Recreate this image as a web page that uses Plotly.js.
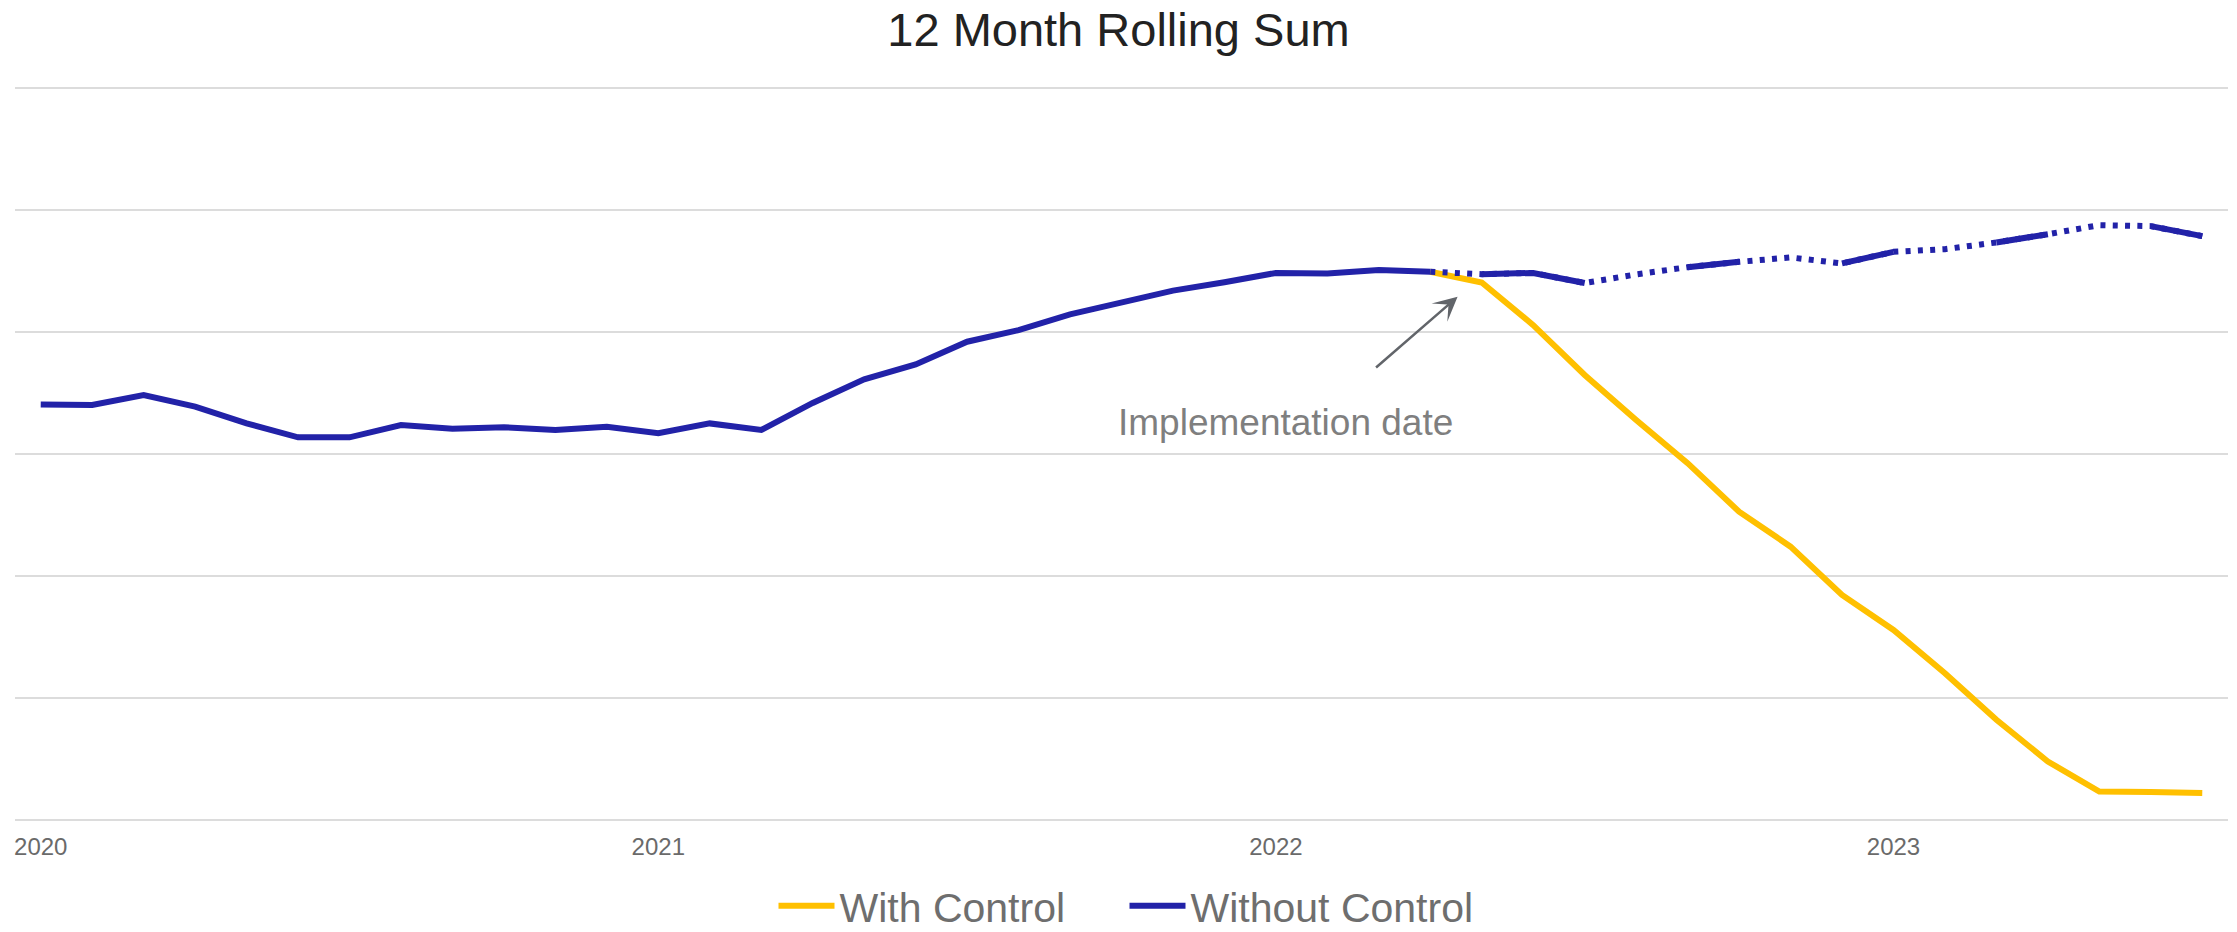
<!DOCTYPE html>
<html>
<head>
<meta charset="utf-8">
<script src="https://cdn.plot.ly/plotly-3.0.1.min.js"></script>
<style>
  html, body { margin: 0; padding: 0; background: #ffffff; }
  #chart { width: 2237px; height: 932px; }
</style>
</head>
<body>
<div id="chart"></div>
<script>
// ---- Data ----
const months = [
  'Jan 2020','Feb 2020','Mar 2020','Apr 2020','May 2020','Jun 2020','Jul 2020','Aug 2020','Sep 2020','Oct 2020','Nov 2020','Dec 2020',
  'Jan 2021','Feb 2021','Mar 2021','Apr 2021','May 2021','Jun 2021','Jul 2021','Aug 2021','Sep 2021','Oct 2021','Nov 2021','Dec 2021',
  'Jan 2022','Feb 2022','Mar 2022','Apr 2022','May 2022','Jun 2022','Jul 2022','Aug 2022','Sep 2022','Oct 2022','Nov 2022','Dec 2022',
  'Jan 2023','Feb 2023','Mar 2023','Apr 2023','May 2023','Jun 2023','Jul 2023'
];

const withoutControl = [
  340.7, 340.2, 348.4, 338.8, 325.1, 313.7, 313.7, 323.8, 320.8, 321.9, 319.7, 322.4,
  317.0, 325.1, 319.7, 341.9, 361.2, 373.5, 392.1, 401.6, 414.5, 424.0, 434.0, 440.8,
  448.5, 448.0, 451.0, 449.5, 447.5, 448.5, 440.2, 447.3, 453.2, 457.6, 461.2, 456.3,
  465.8, 468.0, 473.5, 480.3, 487.7, 486.9, 478.7
];

const withControl = [
  null, null, null, null, null, null, null, null, null, null, null, null,
  null, null, null, null, null, null, null, null, null, null, null, null,
  null, null, null, 449.5, 440.7, 405.7, 364.8, 327.9, 292.5, 252.7, 224.0, 184.4,
  155.7, 120.2, 82.0, 47.8, 23.2, 22.7, 21.9
];

// month index ranges of the "Without Control" line drawn solid (rest dotted)
const solidSegments = [[0, 27], [28, 30], [32, 33], [35, 36], [38, 39], [41, 42]];
const dottedStart = 27;

const tickMonths = ['Jan 2020', 'Jan 2021', 'Jan 2022', 'Jan 2023'];
const tickLabels = ['2020', '2021', '2022', '2023'];

const seriesNames = ['With Control', 'Without Control'];
const implementationLabel = 'Implementation date';

// ---- Build traces ----
const COLOR_WITH = '#FFC000';
const COLOR_WITHOUT = '#2222A8';
const LW = 6;

const solidX = [], solidY = [];
solidSegments.forEach(([a, b]) => {
  for (let i = a; i <= b; i++) { solidX.push(months[i]); solidY.push(withoutControl[i]); }
  solidX.push(null); solidY.push(null);
});

const traces = [
  {
    x: months, y: withControl, type: 'scatter', mode: 'lines',
    name: seriesNames[0],
    line: { color: COLOR_WITH, width: LW },
    connectgaps: false, hoverinfo: 'skip'
  },
  {
    x: months.slice(dottedStart), y: withoutControl.slice(dottedStart),
    type: 'scatter', mode: 'lines',
    name: seriesNames[1], showlegend: false, legendgroup: 'wo',
    line: { color: COLOR_WITHOUT, width: LW, dash: '5px,7.3px' },
    hoverinfo: 'skip'
  },
  {
    x: solidX, y: solidY, type: 'scatter', mode: 'lines',
    name: seriesNames[1], legendgroup: 'wo',
    line: { color: COLOR_WITHOUT, width: LW },
    connectgaps: false, hoverinfo: 'skip'
  }
];

const FONT = '"Liberation Sans", Arial, sans-serif';

const layout = {
  width: 2237, height: 932,
  paper_bgcolor: '#ffffff', plot_bgcolor: '#ffffff',
  margin: { l: 15, r: 9, t: 87, b: 111, pad: 0, autoexpand: false },
  font: { family: FONT, color: '#6e6e6e' },
  title: {
    text: '12 Month Rolling Sum',
    font: { family: FONT, size: 47, color: '#222222' },
    x: 0.5, xanchor: 'center',
    y: 1 - 30 / 932, yref: 'container', yanchor: 'middle'
  },
  xaxis: {
    type: 'category',
    range: [-0.5, 42.5],
    tickmode: 'array', tickvals: tickMonths, ticktext: tickLabels,
    tickfont: { family: FONT, size: 24, color: '#6a6a6a' },
    ticklabelstandoff: 9,
    showgrid: false, zeroline: false, showline: false, ticks: '',
    fixedrange: true, automargin: false
  },
  yaxis: {
    range: [-1, 601], dtick: 100, tick0: 0,
    showticklabels: false, ticks: '',
    showgrid: true, gridcolor: '#dcdcdc', gridwidth: 2,
    zeroline: true, zerolinecolor: '#dcdcdc', zerolinewidth: 2,
    showline: false, fixedrange: true, automargin: false
  },
  showlegend: true,
  legend: {
    orientation: 'h', x: 0.5 + 6 / 2237, xanchor: 'center', xref: 'container',
    y: 1 - 906 / 932, yanchor: 'middle', yref: 'container',
    itemwidth: 56, entrywidth: 280, entrywidthmode: 'pixels',
    font: { family: FONT, size: 41, color: '#6e6e6e' },
    bgcolor: 'rgba(0,0,0,0)', itemclick: false, itemdoubleclick: false
  },
  annotations: [
    {
      xref: 'x', yref: 'y', x: 24.19, y: 325.6,
      text: implementationLabel, showarrow: false,
      xanchor: 'center', yanchor: 'middle',
      font: { family: FONT, size: 37, color: '#7f7f7f' }
    },
    {
      xref: 'x', yref: 'y', x: 27.53, y: 428.9,
      text: '', showarrow: true,
      axref: 'pixel', ayref: 'pixel', ax: -83, ay: 72,
      arrowhead: 3, arrowsize: 1.6, arrowwidth: 2.5, arrowcolor: '#62656a',
      standoff: 0
    }
  ],
  hovermode: false
};

Plotly.newPlot('chart', traces, layout, { displayModeBar: false, staticPlot: true });
</script>
</body>
</html>
